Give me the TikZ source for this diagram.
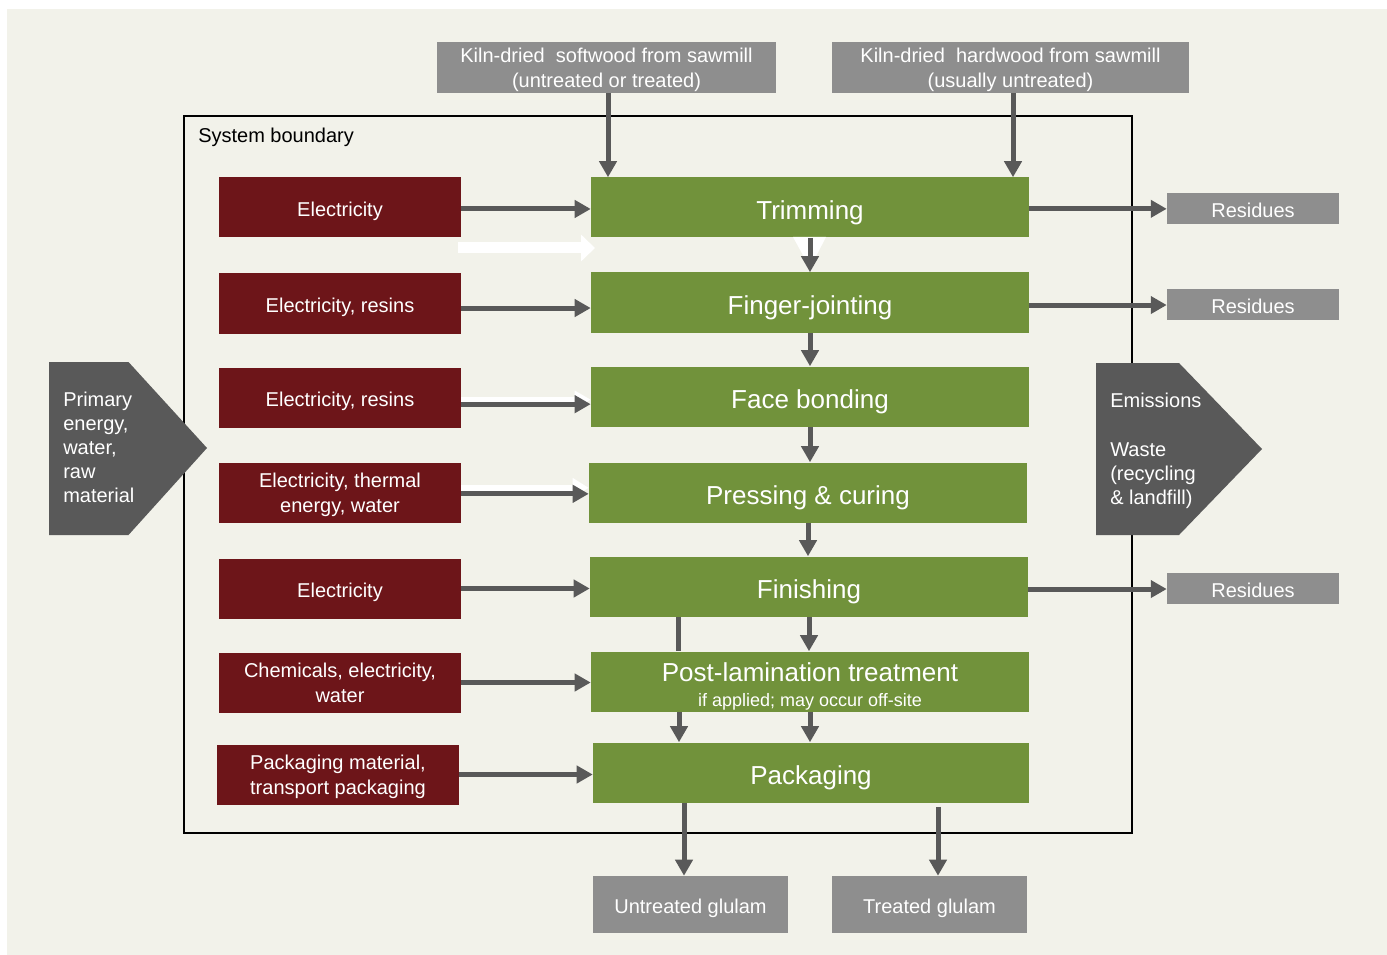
\documentclass[tikz,border=0pt]{standalone}
\usepackage{fontspec}
\setmainfont{Liberation Sans}
\usetikzlibrary{arrows.meta}
\definecolor{bgc}{HTML}{F2F2EA}
\definecolor{redc}{HTML}{6D1519}
\definecolor{greenc}{HTML}{71923B}
\definecolor{grayc}{HTML}{8E8E8E}
\definecolor{darkc}{HTML}{595959}
\begin{document}
\begin{tikzpicture}[x=0.75pt,y=-0.75pt,
  box/.style={inner sep=0pt, text=white, align=center, text depth=0pt},
  redbox/.style={box, fill=redc, minimum width=181.5pt, minimum height=45pt, font=\fontsize{15}{18.75}\selectfont},
  redone/.style={redbox, text height=13.8pt},
  greenbox/.style={box, fill=greenc, minimum width=328.5pt, minimum height=45pt, font=\fontsize{19.5}{23}\selectfont, text height=17.5pt},
  graybox/.style={box, fill=grayc, font=\fontsize{15}{18.75}\selectfont},
  resbox/.style={graybox, minimum width=129pt, minimum height=23.25pt, text height=14.2pt},
  outbox/.style={graybox, minimum width=146.25pt, minimum height=42.75pt, text height=13.8pt},
  flow/.style={draw=darkc, line width=3.75pt, -{Triangle[length=12pt,width=12.75pt]}},
  plainflow/.style={draw=darkc, line width=3.75pt},
  ghost/.style={draw=white, -{Triangle[length=10.5pt,width=19.5pt]}},
  pent/.style={fill=darkc},
  penttext/.style={text=white, align=left, inner sep=0pt, text depth=0pt, anchor=west}]
\useasboundingbox (0,0) rectangle (1387,955);
\fill[white] (0,0) rectangle (1387,955);
\fill[bgc] (7,9) rectangle (1387,955);
% system boundary
\draw[line width=1.5pt] (184,116) rectangle (1132,833);
\node[anchor=base west, inner sep=0pt, font=\fontsize{15}{18}\selectfont] (sb) at (198,143) {System boundary};
% top inputs
\node[graybox, minimum width=254.25pt, minimum height=38.25pt] (sw) at (606.5,67.5) {Kiln-dried\ \ softwood from sawmill\\(untreated or treated)};
\node[graybox, minimum width=267.75pt, minimum height=38.25pt] (hw) at (1010.5,67.5) {Kiln-dried\ \ hardwood from sawmill\\(usually untreated)};
% process boxes
\node[greenbox] (trim) at (810,207.5) {Trimming};
\node[greenbox] (fj) at (810,302.5) {Finger-jointing};
\node[greenbox] (fb) at (810,396.5) {Face bonding};
\node[greenbox] (pc) at (808,492.5) {Pressing \& curing};
\node[greenbox] (fin) at (809,586.5) {Finishing};
\node[greenbox] (pl) at (810,681.5) {};
\node[anchor=base, inner sep=0pt, text=white, font=\fontsize{19.5}{23}\selectfont] (plt) at (810,681) {Post-lamination treatment};
\node[anchor=base, inner sep=0pt, text=white, font=\fontsize{13.5}{16}\selectfont] (pls) at (810,706) {if applied; may occur off-site};
\node[greenbox, minimum width=327pt] (pk) at (811,772.5) {Packaging};
% input boxes
\node[redone] (e1) at (340,207.5) {Electricity};
\node[redone] (e2) at (340,303.5) {Electricity, resins};
\node[redone] (e3) at (340,397.5) {Electricity, resins};
\node[redbox] (e4) at (340,492.5) {Electricity, thermal\\energy, water};
\node[redone] (e5) at (340,588.5) {Electricity};
\node[redbox] (e6) at (340,682.5) {Chemicals,\ electricity,\\water};
\node[redbox] (e7) at (338,774.5) {Packaging\ material,\\transport packaging};
% residues
\node[resbox] (r1) at (1253,208.5) {Residues};
\node[resbox] (r2) at (1253,304.5) {Residues};
\node[resbox] (r3) at (1253,588.5) {Residues};
% outputs
\node[outbox] (unt) at (690.5,904.5) {Untreated glulam};
\node[outbox] (trt) at (929.5,904.5) {Treated glulam};
% helper coordinates
\coordinate (swx) at (608,0);
\coordinate (hwx) at (1013,0);
\coordinate (lx) at (678,0);
\coordinate (lx2) at (679,0);
\coordinate (ux) at (684,0);
\coordinate (tx) at (938,0);
\coordinate (g1) at (458,248);
\coordinate (g1e) at (595,248);
% white ghost shapes
\draw[ghost, line width=8.25pt] (g1) -- (g1e);
\fill[white] (793,237) -- (826,237) -- (810,268) -- cycle;
\draw[draw=white, line width=4pt, -{Triangle[length=12pt,width=12.75pt]}] ([yshift=-1.6pt]e3.east) -- ([yshift=-1.6pt]e3.east -| fb.west);
\draw[draw=white, line width=5pt, -{Triangle[length=12pt,width=14pt]}] ([yshift=3.5pt]e4.east) -- ([yshift=3.5pt]e4.east -| pc.west);
% input arrows
\draw[flow] ([yshift=-1.1pt]e1.east) -- ([yshift=-1.1pt]e1.east -| trim.west);
\draw[flow] ([yshift=-3.4pt]e2.east) -- ([yshift=-3.4pt]e2.east -| fj.west);
\draw[flow] ([yshift=-5pt]e3.east) -- ([yshift=-5pt]e3.east -| fb.west);
\draw[flow] ([yshift=-1pt]e4.east) -- ([yshift=-1pt]e4.east -| pc.west);
\draw[flow] (e5.east) -- (e5.east -| fin.west);
\draw[flow] (e6.east) -- (e6.east -| pl.west);
\draw[flow] (e7.east) -- (e7.east -| pk.west);
% top arrows
\draw[flow] (swx |- sw.south) -- (swx |- trim.north);
\draw[flow] (hwx |- hw.south) -- (hwx |- trim.north);
% process chain
\draw[flow] (trim.south) -- (fj.north);
\draw[flow] (fj.south) -- (fb.north);
\draw[flow] (fb.south) -- (fb.south |- pc.north);
\draw[flow] (pc.south) -- (pc.south |- fin.north);
\draw[flow] (fin.south) -- (fin.south |- pl.north);
\draw[flow] (pl.south) -- (pl.south |- pk.north);
\draw[plainflow] (lx |- fin.south) -- (lx |- pl.north);
\draw[flow] (lx2 |- pl.south) -- (lx2 |- pk.north);
% residues arrows
\draw[flow] ([yshift=-1pt]trim.east) -- ([yshift=-1pt]trim.east -| r1.west);
\draw[flow] ([yshift=-1.9pt]fj.east) -- ([yshift=-1.9pt]fj.east -| r2.west);
\draw[flow] ([yshift=-1.9pt]fin.east) -- ([yshift=-1.9pt]fin.east -| r3.west);
% outputs arrows
\draw[flow] (ux |- pk.south) -- (ux |- unt.north);
\draw[flow] ([yshift=-3pt]tx |- pk.south) -- (tx |- trt.north);
% pentagons
\fill[pent] (49,362) -- (128.5,362) -- (207,448) -- (128.5,535) -- (49,535) -- cycle;
\node[penttext, font=\fontsize{15}{18}\selectfont] (prim) at (63,447.5) {Primary\\energy,\\water,\\raw\\material};
\fill[pent] (1096,363) -- (1179,363) -- (1262,449) -- (1179,535) -- (1096,535) -- cycle;
\node[penttext, font=\fontsize{15}{18.2}\selectfont] (emis) at (1110,449) {Emissions\\\mbox{}\\Waste\\(recycling\\\&\ landfill)};
\end{tikzpicture}
\end{document}
